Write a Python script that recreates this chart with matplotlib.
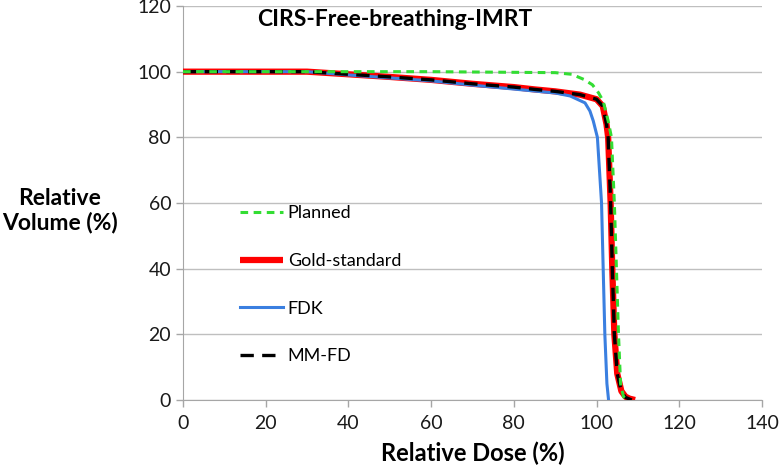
import matplotlib.pyplot as plt

plt.rcParams["font.family"] = ["Lato", "DejaVu Sans"]

title = "CIRS-Free-breathing-IMRT"
x_ticks = [0, 20, 40, 60, 80, 100, 120, 140]
y_ticks = [0, 20, 40, 60, 80, 100, 120]

planned_dose = [0, 30, 60, 90, 94, 97, 99, 100.5, 101.6, 102.8, 103.6, 104.3, 104.8, 105.3, 105.8, 106.5, 107.5]
planned_vol = [100, 100, 100, 99.7, 99.2, 97.6, 96, 93.5, 91, 85, 80, 60, 40, 20, 5, 1, 0]

gold_dose = [0, 30, 40, 50, 60, 70, 80, 85, 90, 96, 100, 101.5, 102.4, 102.8, 103.4, 103.8, 104.3, 105, 106, 107, 108, 109.3]
gold_vol = [100, 100, 99.2, 98.4, 97.5, 96.3, 95.3, 94.6, 94, 93, 91.6, 89.5, 84, 80, 60, 40, 20, 8, 2.7, 1, 0.4, 0]

fdk_dose = [0, 30, 40, 50, 60, 70, 80, 90, 93.6, 97.2, 98.4, 99.2, 100.2, 100.7, 101.2, 101.6, 102.0, 102.5, 102.9]
fdk_vol = [100, 100, 99, 98.1, 97.2, 95.9, 94.7, 93.5, 92.6, 90.5, 88, 85, 80, 70, 60, 40, 20, 5, 0]

mmfd_dose = [0, 30, 40, 50, 60, 70, 80, 85, 90, 96, 100, 101.5, 102.4, 102.8, 103.4, 103.8, 104.3, 105, 106, 107, 108.5]
mmfd_vol = [100, 100, 99.2, 98.4, 97.5, 96.3, 95.3, 94.6, 94, 93, 91.6, 89.5, 84, 80, 60, 40, 20, 8, 2.5, 0.8, 0]

fig = plt.figure(figsize=(7.8, 4.75), dpi=100)
ax = fig.add_axes([183 / 780, 75 / 475, 579 / 780, 394 / 475])

ax.plot(gold_dose, gold_vol, color="#ff0000", linewidth=4.5, solid_capstyle="butt",
        label="Gold-standard", zorder=3)
ax.plot(fdk_dose, fdk_vol, color="#3a7fe0", linewidth=2.2, label="FDK", zorder=4)
ax.plot(mmfd_dose, mmfd_vol, color="black", linewidth=2.4, dashes=(4, 2.5),
        label="MM-FD", zorder=5)
ax.plot(planned_dose, planned_vol, color="#33dd33", linewidth=2.2, dashes=(2.5, 1.8),
        label="Planned", zorder=6)

ax.set_xlim(0, 140)
ax.set_ylim(0, 120)
ax.set_xticks(x_ticks)
ax.set_yticks(y_ticks)
ax.tick_params(labelsize=14, colors="#a6a6a6", labelcolor="#1a1a1a", length=5, width=1)
ax.tick_params(axis="x", pad=6)
ax.grid(axis="y", color="#bfbfbf", linewidth=1)
ax.set_axisbelow(True)
for side in ["top", "right"]:
    ax.spines[side].set_visible(False)
for side in ["left", "bottom"]:
    ax.spines[side].set_color("#a6a6a6")

ax.set_xlabel("Relative Dose (%)", fontsize=17, fontweight="bold", labelpad=7)
fig.text(60 / 780, 1 - 211 / 475, "Relative\nVolume (%)", ha="center", va="center",
         fontsize=16.5, fontweight="bold", linespacing=1.15)
fig.text(395 / 780, 1 - 19 / 475, title, ha="center", va="center",
         fontsize=16.5, fontweight="bold")

handles, labels = ax.get_legend_handles_labels()
order = [3, 0, 1, 2]
ax.legend([handles[i] for i in order], [labels[i] for i in order],
          loc="upper left", bbox_to_anchor=(0.07, 0.535), frameon=False,
          fontsize=13, handlelength=2.4, handletextpad=0.25, labelspacing=1.75)

fig.savefig("out.png", dpi=100)
